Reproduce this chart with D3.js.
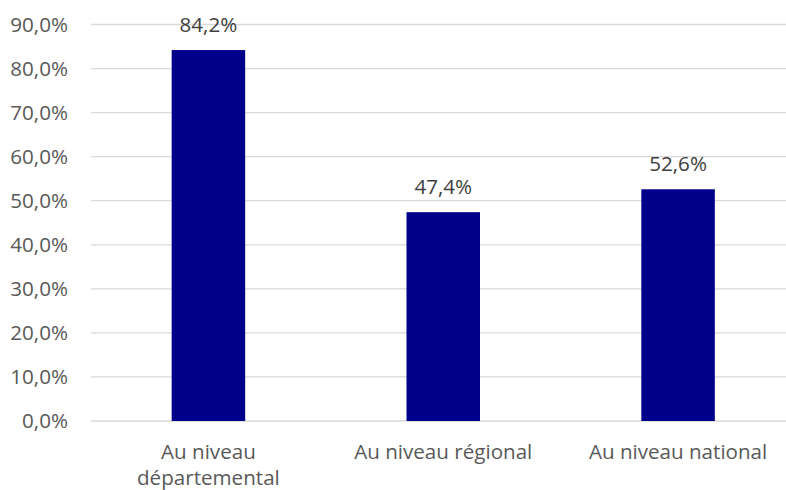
<!DOCTYPE html>
<html><head><meta charset="utf-8">
<script src="https://cdn.jsdelivr.net/npm/d3@7"></script>
<style>body{margin:0;background:#fff}svg{display:block}</style>
</head><body>
<svg id="c" width="786" height="490"></svg>
<script>
const categories = [["Au niveau","départemental"],["Au niveau régional"],["Au niveau national"]];
const values = [84.2, 47.4, 52.6];
const yTicks = [0,10,20,30,40,50,60,70,80,90];

const svg = d3.select("#c");
const font = "'Open Sans', sans-serif";
const fs = "20.6px";
const x = d3.scaleBand().domain(d3.range(categories.length)).range([91, 795.5]).paddingInner(0.687).paddingOuter(0.3435);
const y = d3.scaleLinear().domain([0, 90]).range([421, 24.5]);
const fmt = v => v.toFixed(1).replace(".", ",") + "%";

svg.append("g").selectAll("line").data(yTicks).join("line")
  .attr("x1", 91).attr("x2", 786)
  .attr("y1", d => y(d)).attr("y2", d => y(d))
  .attr("stroke", "#d9d9d9").attr("stroke-width", 1.3);

svg.append("g").selectAll("text").data(yTicks).join("text")
  .attr("x", 68).attr("y", d => y(d) + 7)
  .attr("text-anchor", "end").attr("fill", "#595959")
  .style("font-family", font).style("font-size", fs)
  .text(d => fmt(d));

svg.append("g").selectAll("rect").data(values).join("rect")
  .attr("x", (d, i) => x(i)).attr("width", x.bandwidth())
  .attr("y", d => y(d)).attr("height", d => y(0) - y(d))
  .attr("fill", "#00008b");

svg.append("g").selectAll("text").data(values).join("text")
  .attr("x", (d, i) => x(i) + x.bandwidth() / 2).attr("y", d => y(d) - 18)
  .attr("text-anchor", "middle").attr("fill", "#404040")
  .style("font-family", font).style("font-size", fs)
  .text(d => fmt(d));

const cg = svg.append("g").selectAll("text").data(categories).join("text")
  .attr("x", (d, i) => x(i) + x.bandwidth() / 2).attr("y", 459)
  .attr("text-anchor", "middle").attr("fill", "#595959")
  .style("font-family", font).style("font-size", fs);
cg.selectAll("tspan").data(d => d).join("tspan")
  .attr("x", function(){ return d3.select(this.parentNode).attr("x"); })
  .attr("dy", (d, j) => j === 0 ? 0 : 26)
  .text(d => d);
</script>
</body></html>
